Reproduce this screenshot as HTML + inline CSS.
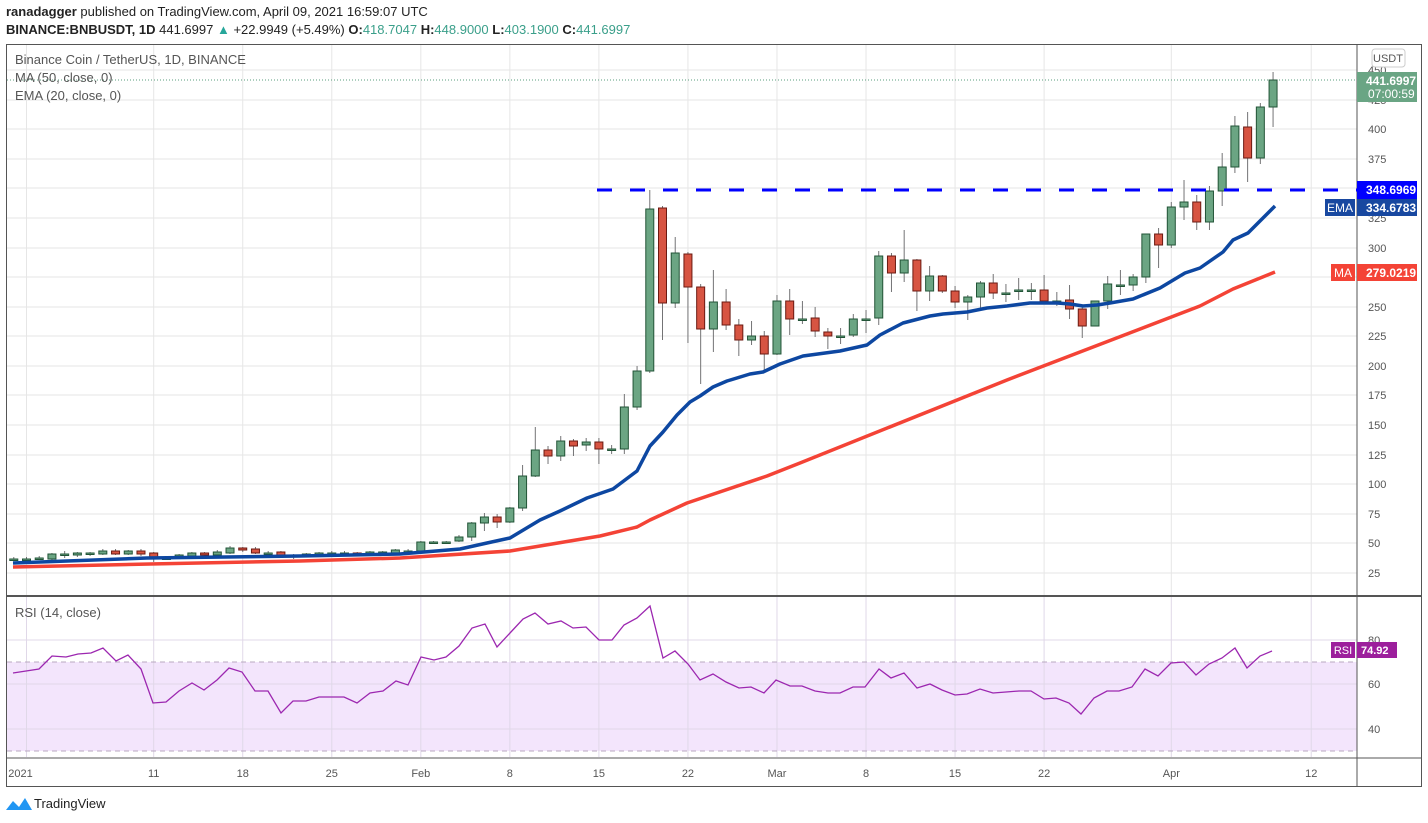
<!DOCTYPE html>
<html><head><meta charset="utf-8"><style>
body{margin:0;background:#fff;width:1428px;height:823px;overflow:hidden;font-family:"Liberation Sans",sans-serif;position:relative}
.t{position:absolute;white-space:nowrap;z-index:2}
</style></head><body>
<svg id="s" width="1428" height="823" style="position:absolute;left:0;top:0;z-index:1"></svg>
<div class="t" style="left:6px;top:4px;font-size:13px;color:#222"><b>ranadagger</b> published on TradingView.com, April 09, 2021 16:59:07 UTC</div>
<div class="t" style="left:6px;top:22px;font-size:13px;color:#222"><b>BINANCE:BNBUSDT, 1D</b> 441.6997 <span style="color:#26a69a">▲</span> +22.9949 (+5.49%) <b>O:</b><span style="color:#3a9f8a">418.7047</span> <b>H:</b><span style="color:#3a9f8a">448.9000</span> <b>L:</b><span style="color:#3a9f8a">403.1900</span> <b>C:</b><span style="color:#3a9f8a">441.6997</span></div>
<div class="t" style="left:15px;top:52px;font-size:13px;color:#555">Binance Coin / TetherUS, 1D, BINANCE</div>
<div class="t" style="left:15px;top:70px;font-size:13px;color:#555">MA (50, close, 0)</div>
<div class="t" style="left:15px;top:88px;font-size:13px;color:#555">EMA (20, close, 0)</div>
<div class="t" style="left:15px;top:605px;font-size:13px;color:#555">RSI (14, close)</div>
<div class="t" style="left:34px;top:796px;font-size:13px;color:#222">TradingView</div>
<script>
const S=document.getElementById('s');let h='';
const X=d=>26.5+d*12.72;
h+='<rect x="6.5" y="662" width="1350" height="89" fill="#f3e5fc"/>';
const py=[70,100,129,159,188,218,248,277,307,336,366,395,425,455,484,514,543,573];
py.forEach(y=>h+=`<line x1="7" x2="1357" y1="${y}" y2="${y}" stroke="#e6e6e6"/>`);
[640,684,729].forEach(y=>h+=`<line x1="7" x2="1357" y1="${y}" y2="${y}" stroke="#e0d8e8"/>`);
const vd=[0,10,17,24,31,38,45,52,59,66,73,80,90,101];
vd.forEach(d=>{h+=`<line x1="${X(d)}" x2="${X(d)}" y1="44" y2="595" stroke="#e6e6e6"/><line x1="${X(d)}" x2="${X(d)}" y1="597" y2="757" stroke="#e0d8e8"/>`});
h+='<line x1="7" x2="1357" y1="662" y2="662" stroke="#b8a8c0" stroke-dasharray="5,4"/><line x1="7" x2="1357" y1="751" y2="751" stroke="#b8a8c0" stroke-dasharray="5,4"/>';
h+='<rect x="6.5" y="44.5" width="1415" height="742" fill="none" stroke="#555"/>';
h+='<line x1="1357" x2="1357" y1="44" y2="786" stroke="#555"/><line x1="7" x2="1422" y1="596" y2="596" stroke="#555" stroke-width="2"/><line x1="7" x2="1422" y1="758" y2="758" stroke="#555"/>';
const pl=[[450,70],[425,100],[400,129],[375,159],[325,218],[300,248],[275,277],[250,307],[225,336],[200,366],[175,395],[150,425],[125,455],[100,484],[75,514],[50,543],[25,573]];
pl.forEach(([v,y])=>h+=`<text x="1368" y="${y+4}" font-size="11" fill="#555" font-family="Liberation Sans">${v}</text>`);
[[80,640],[60,684],[40,729]].forEach(([v,y])=>h+=`<text x="1368" y="${y+4}" font-size="11" fill="#555" font-family="Liberation Sans">${v}</text>`);
const xl=[[0,'2021'],[10,'11'],[17,'18'],[24,'25'],[31,'Feb'],[38,'8'],[45,'15'],[52,'22'],[59,'Mar'],[66,'8'],[73,'15'],[80,'22'],[90,'Apr'],[101,'12']];
xl.forEach(([d,t])=>h+=`<text x="${X(d)-(d==0?6:0)}" y="777" font-size="11" fill="#555" text-anchor="middle" font-family="Liberation Sans">${t}</text>`);
h+='<line x1="7" x2="1357" y1="80" y2="80" stroke="#5a9e7c" stroke-dasharray="1,2"/>';
const C=[[-1,559,559,557,561],[0,559,559,557,561],[1,558,558,556,560],[2,559,554,553,560],[3,554,554,551,558],[4,555,553,552,557],[5,553,553,552,556],[6,554,551,549,555],[7,551,554,549,555],[8,554,551,550,555],[9,551,554,549,556],[10,553,558,552,562],[11,558,558,556,560],[12,558,555,554,559],[13,556,553,552,557],[14,553,555,552,557],[15,555,552,550,556],[16,553,548,546,554],[17,548,550,547,552],[18,549,553,547,554],[19,553,553,551,556],[20,552,557,551,558],[21,557,555,554,559],[22,554,554,553,556],[23,555,553,552,556],[24,553,553,551,555],[25,553,553,551,556],[26,553,555,552,556],[27,555,552,551,556],[28,553,552,551,554],[29,553,550,549,554],[30,551,551,549,554],
[31,551,542,541,552],[32,542,542,541,544],[33,542,542,541,543],[34,541,537,535,542],[35,537,523,522,541],[36,523,517,513,531],[37,517,522,514,528],[38,522,508,507,523],[39,508,476,465,511],[40,476,450,427,477],[41,450,456,446,464],[42,456,441,436,461],[43,441,446,439,456],[44,445,442,438,451],[45,442,449,438,464],[46,449,449,445,454],[47,449,407,394,454],[48,407,371,366,410],[49,371,209,190,373],[50,208,303,206,340],[51,303,253,237,308],[52,254,287,252,343],[53,287,329,284,384],[54,329,302,270,352],[55,302,325,289,330],[56,325,340,319,356],[57,340,336,321,345],[58,336,354,331,372],[59,354,301,295,355],[60,301,319,289,335],[61,319,319,301,324],[62,318,331,307,337],[63,332,336,328,349],[64,336,336,328,344],[65,335,319,314,337],[66,319,319,310,333],[67,318,256,251,325],[68,256,273,253,292],[69,273,260,230,282],[70,260,291,259,311],[71,291,276,266,301],[72,276,291,275,293],[73,291,302,286,308],[74,302,297,295,320],[75,297,283,281,310],[76,283,293,274,299],[77,293,293,284,302],[78,290,290,278,300],[79,290,290,283,300],[80,290,301,275,304],[81,301,301,292,306],[82,300,309,285,319],[83,309,326,306,338],[84,326,301,301,326],[85,301,284,276,309],[86,285,285,270,295],[87,285,277,274,291],[88,277,234,234,283],[89,234,245,228,268],[90,245,207,202,248],[91,207,202,180,220],[92,202,222,195,230],[93,222,191,186,230],[94,191,167,153,206],[95,167,126,116,173],[96,127,158,112,182],[97,158,107,103,164],[98,107,80,72,127]];
C.forEach(([d,o,c,hi,lo])=>{const x=X(d);const g=c<=o;const t=Math.min(o,c),b=Math.max(o,c);
h+=`<line x1="${x}" x2="${x}" y1="${hi}" y2="${lo}" stroke="#737375"/>`;
const ht=Math.max(b-t,1.5);
h+=`<rect x="${x-4}" y="${t}" width="8" height="${ht}" fill="${g?'#6ba583':'#d75442'}" stroke="${g?'#225437':'#6b1a12'}" stroke-width="1"/>`;});
const ma=[[13,567],[150,564],[300,561],[400,558],[510,551],[600,536],[637,527],[650,520],[687,503],[767,476],[800,463],[1007,380],[1200,306],[1233,289],[1275,272]];
const ema=[[13,563],[147,558],[300,556],[400,554],[460,549],[487,543],[510,538],[540,520],[560,511],[587,498],[613,489],[637,471],[650,446],[663,432],[677,415],[690,402],[700,396],[713,387],[727,381],[750,374],[763,372],[780,364],[803,356],[840,351],[867,345],[880,335],[903,323],[930,316],[943,314],[967,312],[987,308],[1007,306],[1030,303],[1057,303],[1070,304],[1083,306],[1097,305],[1110,303],[1133,299],[1160,288],[1185,273],[1200,268],[1223,252],[1233,240],[1248,233],[1275,206]];
const P=a=>a.map(p=>p.join(',')).join(' ');
h+=`<polyline points="${P(ma)}" fill="none" stroke="#f44336" stroke-width="3.5" stroke-linejoin="round"/>`;
h+=`<polyline points="${P(ema)}" fill="none" stroke="#0d47a1" stroke-width="3.5" stroke-linejoin="round"/>`;
h+='<line x1="597" x2="1357" y1="190" y2="190" stroke="#0000ff" stroke-width="3" stroke-dasharray="15,18"/>';
const r=[[13,673],[39,669],[52,656],[66,657],[78,654],[91,653],[103,648],[116,661],[128,655],[141,669],[153,703],[166,702],[179,691],[192,683],[204,690],[217,680],[229,668],[242,672],[255,691],[268,691],[281,713],[293,701],[306,701],[319,697],[331,697],[344,697],[357,703],[370,693],[383,691],[396,681],[408,685],[421,657],[434,660],[446,657],[459,646],[472,628],[485,624],[497,647],[510,633],[523,619],[535,613],[548,624],[561,621],[573,628],[586,627],[599,640],[612,640],[624,625],[637,618],[650,606],[663,658],[675,651],[688,664],[700,680],[713,674],[726,682],[739,688],[751,687],[764,693],[776,680],[790,686],[802,686],[815,691],[828,693],[840,693],[853,687],[865,687],[879,669],[891,678],[904,673],[917,688],[930,684],[942,690],[955,695],[967,694],[980,689],[993,693],[1006,692],[1019,691],[1031,691],[1044,699],[1056,698],[1069,703],[1081,714],[1094,698],[1107,691],[1119,691],[1132,687],[1145,669],[1158,676],[1171,663],[1184,662],[1196,675],[1209,664],[1222,658],[1235,648],[1247,668],[1260,656],[1272,651]];
h+=`<polyline points="${P(r)}" fill="none" stroke="#9c27b0" stroke-width="1.3"/>`;
h+='<rect x="1372" y="49" width="33" height="18" rx="3" fill="#fff" stroke="#ccc"/><text x="1388" y="62" font-size="11" fill="#555" text-anchor="middle" font-family="Liberation Sans">USDT</text>';
h+='<rect x="1357" y="72" width="60" height="30" fill="#6aa584"/><text x="1366" y="85" font-size="12" font-weight="bold" fill="#fff" font-family="Liberation Sans">441.6997</text><text x="1368" y="98" font-size="12" fill="#fff" font-family="Liberation Sans">07:00:59</text>';
h+='<rect x="1357" y="181" width="60" height="18" fill="#0000ff"/><text x="1366" y="194" font-size="12" font-weight="bold" fill="#fff" font-family="Liberation Sans">348.6969</text>';
h+='<rect x="1325" y="199" width="30" height="17" fill="#1848a0"/><text x="1340" y="212" font-size="12" fill="#fff" text-anchor="middle" font-family="Liberation Sans">EMA</text>';
h+='<rect x="1357" y="199" width="60" height="17" fill="#1848a0"/><text x="1366" y="212" font-size="12" font-weight="bold" fill="#fff" font-family="Liberation Sans">334.6783</text>';
h+='<rect x="1331" y="264" width="24" height="17" fill="#f44336"/><text x="1343" y="277" font-size="12" fill="#fff" text-anchor="middle" font-family="Liberation Sans">MA</text>';
h+='<rect x="1357" y="264" width="60" height="17" fill="#f44336"/><text x="1366" y="277" font-size="12" font-weight="bold" fill="#fff" font-family="Liberation Sans">279.0219</text>';
h+='<rect x="1331" y="642" width="24" height="16" fill="#9c1f9c"/><text x="1343" y="654" font-size="11" fill="#fff" text-anchor="middle" font-family="Liberation Sans">RSI</text>';
h+='<rect x="1357" y="642" width="40" height="16" fill="#9c1f9c"/><text x="1361" y="654" font-size="11" font-weight="bold" fill="#fff" font-family="Liberation Sans">74.92</text>';
h+='<path d="M6 810 L13 801 L19 807 L25 798 L32 810 Z" fill="#2196f3"/>';
S.innerHTML=h;
</script>
</body></html>
